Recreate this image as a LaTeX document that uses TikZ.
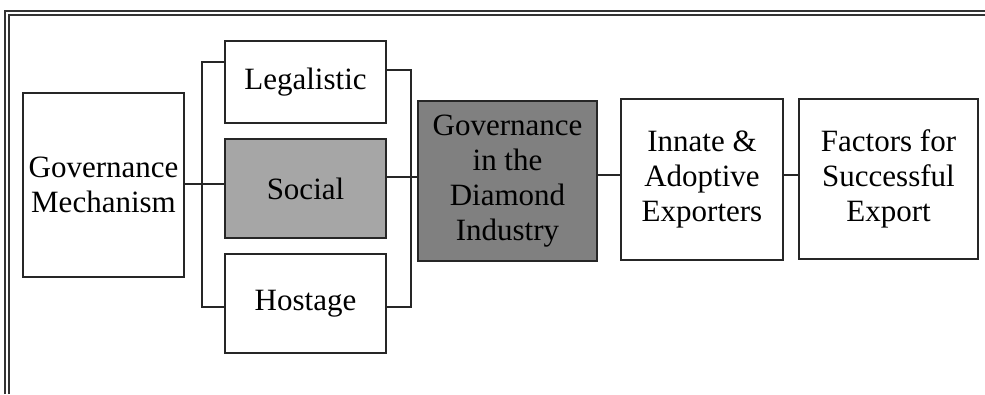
\documentclass[tikz,border=0pt]{standalone}
\usepackage{fontspec}
\setmainfont{Liberation Serif}
\begin{document}
\begin{tikzpicture}[x=1pt,y=-1pt,
  box/.style={draw=black!85,line width=1.4pt,rectangle,inner sep=0pt,align=center,
    font=\fontsize{31}{35}\selectfont,text=black},
  lightbox/.style={box,fill=black!35},
  darkbox/.style={box,fill=black!50},
  link/.style={draw=black!85,line width=1.4pt},
  frameline/.style={draw=black!80,line width=1.4pt}]
\useasboundingbox (0,0) rectangle (985,394);
% double frame along the top and left edges
\draw[frameline] (5,394) -- (5,11) -- (985,11);
\draw[frameline] (9,394) -- (9,15) -- (985,15);
% boxes
\node[box,minimum width=161pt,minimum height=184pt] (mech) at (103.5,185) {Governance\\Mechanism};
\node[box,minimum width=161pt,minimum height=82pt] (legal) at (305.5,82) {Legalistic};
\node[lightbox,minimum width=161pt,minimum height=99pt] (social) at (305.5,188.5) {Social};
\node[box,minimum width=161pt,minimum height=99pt] (hostage) at (305.5,303.5) {Hostage};
\node[darkbox,minimum width=179pt,minimum height=160pt] (diamond) at (507.5,181) {Governance\\in the\\Diamond\\Industry};
\node[box,minimum width=162pt,minimum height=161pt] (innate) at (702,179.5) {Innate \&\\Adoptive\\Exporters};
\node[box,minimum width=179pt,minimum height=160pt] (factors) at (888.5,179) {Factors for\\Successful\\Export};
% connectors
\draw[link] (mech.east |- 0,184) -- (social.west |- 0,184);
\draw[link] ([yshift=20pt]legal.west) -| (202,307) -- (hostage.west |- 0,307);
\draw[link] ([yshift=12pt]legal.east) -| (411,307) -- (hostage.east |- 0,307);
\draw[link] (social.east |- 0,177) -- (diamond.west |- 0,177);
\draw[link] (diamond.east |- 0,175) -- (innate.west |- 0,175);
\draw[link] (innate.east |- 0,175) -- (factors.west |- 0,175);
\end{tikzpicture}
\end{document}
